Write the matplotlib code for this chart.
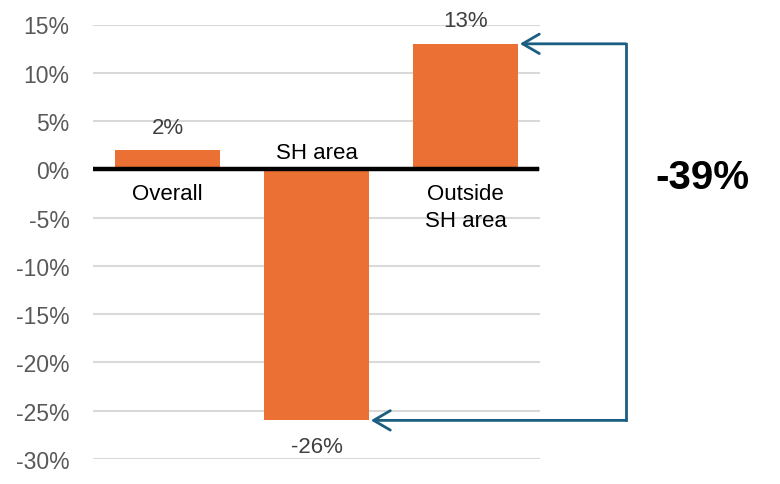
import matplotlib.pyplot as plt
import numpy as np

# Dados do gráfico
categories = ['Overall', 'SH area', 'Outside\nSH area']
values = [0.02, -0.26, 0.13]
value_labels = ['2%', '-26%', '13%']
yticks = [0.15, 0.10, 0.05, 0.0, -0.05, -0.10, -0.15, -0.20, -0.25, -0.30]
diff_label = '-39%'

ORANGE = '#ea7133'
BLUE = '#1b5e82'

plt.rcParams['font.family'] = ['Liberation Sans', 'DejaVu Sans']

fig = plt.figure(figsize=(7.8, 4.85), dpi=100)
ax = fig.add_axes([93 / 780, 1 - 460 / 485, 447 / 780, 434.5 / 485])

x = np.arange(len(categories))
bw = 0.71
ax.bar(x, values, width=bw, color=ORANGE, zorder=2)

ax.set_xlim(-0.5, 2.5)
ax.set_ylim(-0.30, 0.15)
ax.set_yticks(yticks)
ax.set_yticklabels([f'{int(round(t * 100))}%' for t in yticks])
ax.set_xticks([])
ax.tick_params(axis='y', length=0, pad=17, labelsize=16.5, labelcolor='#595959')
ax.grid(axis='y', color='#d9d9d9', lw=1.5, zorder=0)
ax.set_axisbelow(True)
for s in ax.spines.values():
    s.set_visible(False)

# linha do zero
ax.axhline(0, xmin=-0.007, xmax=0.993, color='black', lw=3.2, zorder=3)

# rótulos de valor
for xi, v, lab in zip(x, values, value_labels):
    off = 16.5 if v > 0 else -19
    ax.annotate(lab, (xi, v), xytext=(0, off), textcoords='offset points',
                ha='center', va='center', fontsize=16, color='#404040',
                annotation_clip=False)

# rótulos das categorias
for xi, v, cat in zip(x, values, categories):
    if v < 0:
        ax.annotate(cat, (xi, 0), xytext=(0, 12), textcoords='offset points',
                    ha='center', va='center', fontsize=16, color='black')
    else:
        ax.annotate(cat, (xi, 0), xytext=(0, -10), textcoords='offset points',
                    ha='center', va='top', fontsize=16, color='black',
                    linespacing=1.38)

# seta indicando a diferença
xr = 3.077
top_v = values[2]
bot_v = values[1]
ax.plot([xr, xr], [top_v, bot_v], color=BLUE, lw=2, clip_on=False,
        solid_capstyle='projecting')
ax.annotate('', xy=(2 + bw / 2 + 0.01, top_v), xytext=(xr, top_v),
            arrowprops=dict(arrowstyle='->,head_length=0.6,head_width=0.35',
                            color=BLUE, lw=2, mutation_scale=20,
                            shrinkA=0, shrinkB=0),
            annotation_clip=False)
ax.annotate('', xy=(1 + bw / 2 + 0.01, bot_v), xytext=(xr, bot_v),
            arrowprops=dict(arrowstyle='->,head_length=0.6,head_width=0.35',
                            color=BLUE, lw=2, mutation_scale=20,
                            shrinkA=0, shrinkB=0),
            annotation_clip=False)

ax.text(xr + 0.51, -0.008, diff_label, ha='center', va='center',
        fontsize=29, fontweight='bold', color='black', clip_on=False)

fig.savefig('out.png', dpi=100)
